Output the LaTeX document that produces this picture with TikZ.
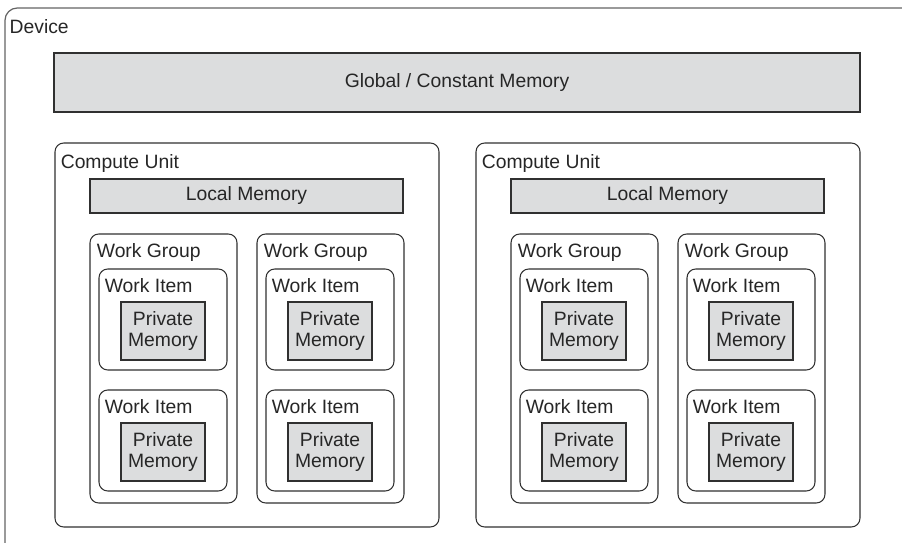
\documentclass[tikz,border=0pt]{standalone}
\usepackage{fontspec}
\setmainfont{Liberation Sans}
\usetikzlibrary{positioning,fit}
\definecolor{memgray}{HTML}{DCDDDE}
\definecolor{boxline}{HTML}{303030}
\tikzset{
    every node/.style={font=\fontsize{11}{12.4}\selectfont,text=black!85},
    devbox/.style={draw=boxline!75,line width=0.7pt,rounded corners=7pt,inner sep=0pt},
    unitbox/.style={draw=boxline,line width=0.6pt,rounded corners=5pt,inner sep=0pt},
    membox/.style={draw=boxline,fill=memgray,line width=0.6pt,inner sep=0pt},
    lbl/.style={inner sep=0pt}
}
\begin{document}
\begin{tikzpicture}[x=0.02cm,y=-0.02cm]
  \clip (0,0) rectangle (902,543);

  %---------------- device ----------------
  \node[devbox, fit={(5,8) (930,570)}] (dev) {};
  \node[lbl, below right=6.6pt and 2.8pt of dev.north west] (devlbl) {Device};

  \node[membox, fit={(54,53) (860,112)},
        label=center:{Global / Constant Memory}] (glob) {};

  %---------------- compute units ----------------
  \foreach \c/\cx in {1/55,2/476}{
      \node[unitbox, fit={(\cx,143) (\cx+384,527)}] (cu\c) {};
      \node[lbl, below right=6.8pt and 3.4pt of cu\c.north west] (culbl\c) {Compute Unit};
      \node[membox, fit={(\cx+35,179) (\cx+348,213)},
            label=center:{Local Memory}] (loc\c) {};

      % work groups
      \foreach \g/\gx in {1/35,2/202}{
          \node[unitbox, fit={(\cx+\gx,234) (\cx+\gx+147,503)}] (wg\c\g) {};
          \node[lbl, below right=5.6pt and 4pt of wg\c\g.north west] (wglbl\c\g) {Work Group};

          % work items
          \foreach \i/\iy in {1/269,2/390}{
              \node[unitbox, fit={(\cx+\gx+9,\iy) (\cx+\gx+137,\iy+101)}] (wi\c\g\i) {};
              \node[lbl, below right=5.6pt and 3.4pt of wi\c\g\i.north west] (wilbl\c\g\i) {Work Item};
              \node[membox, fit={(\cx+\gx+31,\iy+33) (\cx+\gx+115,\iy+91)},
                    label={[align=center]center:Private\\Memory}] (pm\c\g\i) {};
          }
      }
  }
\end{tikzpicture}
\end{document}
